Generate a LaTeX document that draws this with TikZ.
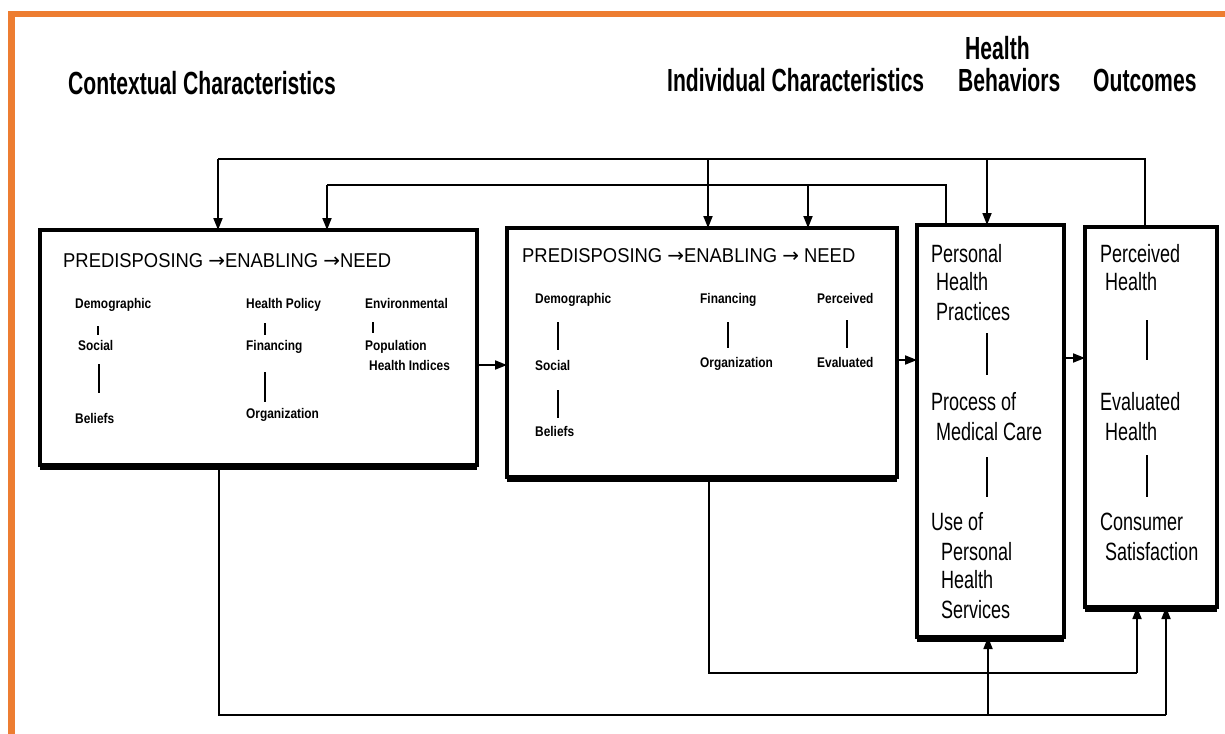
\documentclass[tikz,border=0pt]{standalone}
\usepackage{fontspec}
\setmainfont{Liberation Sans}
\newfontfamily\titlefont[FakeStretch=0.66]{Liberation Sans}
\newfontfamily\headfont[FakeStretch=0.92]{Liberation Sans}
\newfontfamily\smallfont[FakeStretch=0.85]{Liberation Sans}
\newfontfamily\tallfont[FakeStretch=0.72]{Liberation Sans}
\newfontfamily\symfont{DejaVu Sans}
\usepackage{tikz}
\usetikzlibrary{arrows.meta}
\definecolor{frameorange}{RGB}{237,125,49}

\begin{document}
\begin{tikzpicture}[x=1pt,y=-1pt,
	box/.style={draw,line width=4.5pt,inner sep=0pt,outer sep=0pt},
	capt/.style={anchor=base west,inner sep=0pt,font=\titlefont\bfseries\fontsize{32}{34}\selectfont},
	hdr/.style={anchor=base west,inner sep=0pt,font=\headfont\fontsize{20}{24}\selectfont},
	subitem/.style={anchor=base west,inner sep=0pt,font=\smallfont\bfseries\fontsize{14}{16}\selectfont},
	entry/.style={anchor=base west,inner sep=0pt,font=\tallfont\fontsize{25}{29}\selectfont},
	bar/.style={line width=1.5pt},
	wire/.style={line width=1.8pt},
	link/.style={line width=1.8pt,-{Triangle[length=12pt,width=9pt]}}]
						\useasboundingbox (0,0) rectangle (1225,733);
						\clip (0,0) rectangle (1225,733);
						\draw[frameorange,line width=6.5pt] (11.5,14) rectangle (1250,760);
						\node[capt] (tctx) at (68,95) {Contextual Characteristics};
						\node[capt] (tind) at (667,92) {Individual Characteristics};
						\node[capt] (tbeh1) at (965,60) {Health};
						\node[capt] (tbeh2) at (958,92) {Behaviors};
						\node[capt] (tout) at (1093,92) {Outcomes};
						\node[box,minimum width=437pt,minimum height=235pt] (ctx) at (258.5,347.5) {};
						\node[box,minimum width=390pt,minimum height=249pt] (ind) at (702,352.5) {};
						\node[box,minimum width=147pt,minimum height=412pt] (beh) at (990.5,431) {};
						\node[box,minimum width=132pt,minimum height=380pt] (out) at (1151,417) {};
						\foreach \b in {ctx,ind,beh,out}
							\draw[line width=3pt] ([yshift=-3pt]\b.south west) -- ([yshift=-3pt]\b.south east);
						\node[hdr] (ctxhdr) at (63,267) {PREDISPOSING {\symfont→}ENABLING {\symfont→}NEED};
						\node[subitem] (ctxdem) at (75,308) {Demographic};
						\node[subitem] (ctxsoc) at (78,350) {Social};
						\node[subitem] (ctxbel) at (75,423) {Beliefs};
						\node[subitem] (ctxpol) at (246,308) {Health Policy};
						\node[subitem] (ctxfin) at (246,350) {Financing};
						\node[subitem] (ctxorg) at (246,418) {Organization};
						\node[subitem] (ctxenv) at (365,308) {Environmental};
						\node[subitem] (ctxpop) at (365,350) {Population};
						\node[subitem] (ctxhix) at (369,370) {Health Indices};
						\draw[bar] (ctxdem.base -| 98,0) ++(0,18) -- ++(0,9);
						\draw[bar] (ctxsoc.base -| 99,0) ++(0,14) -- ++(0,29);
						\draw[bar] (ctxpol.base -| 265,0) ++(0,15) -- ++(0,12);
						\draw[bar] (ctxfin.base -| 265,0) ++(0,22) -- ++(0,30);
						\draw[bar] (ctxenv.base -| 373,0) ++(0,14) -- ++(0,11);
						\node[hdr] (indhdr) at (522,262) {PREDISPOSING {\symfont→}ENABLING {\symfont→} NEED};
						\node[subitem] (inddem) at (535,303) {Demographic};
						\node[subitem] (indsoc) at (535,370) {Social};
						\node[subitem] (indbel) at (535,436) {Beliefs};
						\node[subitem] (indfin) at (700,303) {Financing};
						\node[subitem] (indorg) at (700,367) {Organization};
						\node[subitem] (indper) at (817,303) {Perceived};
						\node[subitem] (indeva) at (817,367) {Evaluated};
						\draw[bar] (inddem.base -| 558,0) ++(0,19) -- ++(0,28);
						\draw[bar] (indsoc.base -| 558,0) ++(0,20) -- ++(0,28);
						\draw[bar] (indfin.base -| 728,0) ++(0,19) -- ++(0,26);
						\draw[bar] (indper.base -| 847,0) ++(0,17) -- ++(0,28);
						\node[entry] (beh1) at (931,262) {Personal};
						\node[entry] (beh2) at (936,290) {Health};
						\node[entry] (beh3) at (936,320) {Practices};
						\node[entry] (beh4) at (931,410) {Process of};
						\node[entry] (beh5) at (936,440) {Medical Care};
						\node[entry] (beh6) at (931,530) {Use of};
						\node[entry] (beh7) at (941,560) {Personal};
						\node[entry] (beh8) at (941,588) {Health};
						\node[entry] (beh9) at (941,618) {Services};
						\draw[bar] (beh3.base -| 987,0) ++(0,13) -- ++(0,42);
						\draw[bar] (beh5.base -| 987,0) ++(0,17) -- ++(0,40);
						\node[entry] (out1) at (1100,262) {Perceived};
						\node[entry] (out2) at (1105,290) {Health};
						\node[entry] (out3) at (1100,410) {Evaluated};
						\node[entry] (out4) at (1105,440) {Health};
						\node[entry] (out5) at (1100,530) {Consumer};
						\node[entry] (out6) at (1105,560) {Satisfaction};
						\draw[bar] (out2.base -| 1147,0) ++(0,30) -- ++(0,40);
						\draw[bar] (out4.base -| 1147,0) ++(0,15) -- ++(0,42);
						\coordinate (upper) at (0,159);
						\coordinate (lower) at (0,185);
						\coordinate (shelf) at (0,673);
						\coordinate (floor) at (0,715);
						\draw[link] (ctx.east |- 0,365) -- (ind.west |- 0,365);
						\draw[link] (ind.east |- 0,360) -- (beh.west |- 0,360);
						\draw[link] (beh.east |- 0,358) -- (out.west |- 0,358);
						\draw[wire] (out.north -| 1145,0) |- (upper -| 218,0);
						\draw[link] (upper -| 218,0) -- (ctx.north -| 218,0);
						\draw[link] (upper -| 708,0) -- (ind.north -| 708,0);
						\draw[link] (upper -| 987,0) -- (beh.north -| 987,0);
						\draw[wire] (beh.north -| 946,0) |- (lower -| 327,0);
						\draw[link] (lower -| 327,0) -- (ctx.north -| 327,0);
						\draw[link] (lower -| 808,0) -- (ind.north -| 808,0);
						\draw[wire] (ctx.south -| 219,0) |- (floor -| 1166,0);
						\draw[link] (floor -| 1166,0) -- (out.south -| 1166,0);
						\draw[link] (floor -| 988,0) -- (beh.south -| 988,0);
						\draw[wire] (ind.south -| 709,0) |- (shelf -| 1137,0);
						\draw[link] (shelf -| 1137,0) -- (out.south -| 1137,0);
					\end{tikzpicture}
\end{document}
